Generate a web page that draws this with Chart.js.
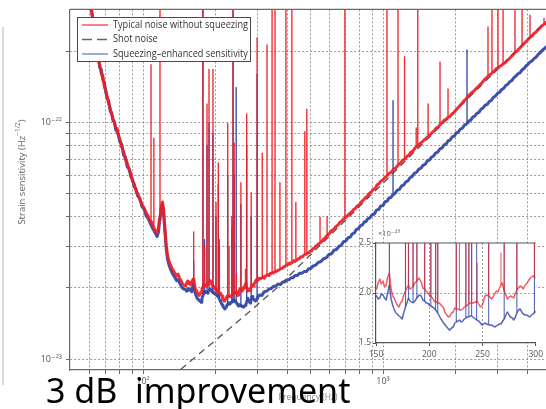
<!DOCTYPE html>
<html>
<head>
<meta charset="utf-8">
<script src="https://cdn.jsdelivr.net/npm/chart.js@4.4.1/dist/chart.umd.min.js"></script>
<style>
  html, body { margin: 0; padding: 0; background: #fff; }
  #wrap { position: relative; width: 546px; height: 409px; overflow: hidden; background: #fff; }
  #main { position: absolute; left: 0; top: 0; }
  #inset { position: absolute; left: 340px; top: 226px; }
</style>
</head>
<body>
<div id="wrap">
  <canvas id="main" width="546" height="409"></canvas>
  <canvas id="inset" width="206" height="146"></canvas>
</div>
<script>
// Strain sensitivity vs frequency, GEO600 style plot with 150-300 Hz inset.
// Values are [frequency Hz, strain in units of 1e-23 /sqrt(Hz)]; a repeated
// frequency (base, top, base) is a narrow spectral line.

const FONT = '"Open Sans", "DejaVu Sans", sans-serif';
const RED_COLOR = 'rgba(236, 30, 38, 0.92)';
const BLUE_COLOR = 'rgba(46, 66, 162, 0.92)';
const GRID = 'rgba(120, 120, 120, 0.75)';

const LEGEND_LABELS = ['Typical noise without squeezing', 'Shot noise', 'Squeezing–enhanced sensitivity'];
const BIG_TEXT = '3 dB  improvement';

const X_MIN = 49.64, X_MAX = 4777;
const Y_MIN = 0.9, Y_MAX = 30.13;
const X_GRID = [60, 70, 80, 90, 100, 200, 300, 400, 500, 600, 700, 800, 900, 1000, 2000, 3000, 4000];
const X_LABELS = ['', '', '', '', '10²', '', '', '', '', '', '', '', '', '10³', '', '', ''];
const Y_GRID = [1, 2, 3, 4, 5, 6, 7, 8, 9, 10, 20];
const Y_LABELS = ['10⁻²³', '', '', '', '', '', '', '', '', '10⁻²²', ''];
const INSET_X_TICKS = [150, 200, 250, 300];
const INSET_Y_TICKS = [1.5, 2.0, 2.5];

const RED = [
  [58, 40], [60, 33], [61.5, 28.5], [63, 24], [64, 21.3], [65, 18.6], [66, 17.6], [67, 16.1], [68, 15.8],
  [69, 14.2], [70, 13.7], [71, 12.8], [72, 12.0], [73, 11.5], [74, 10.9], [75, 10.4], [76, 10.0], [77, 9.5],
  [78, 9.45], [79, 8.8], [80, 8.55], [81.5, 7.9], [83, 7.55], [84.5, 7.0], [86, 6.75], [87.5, 6.3], [89, 6.1],
  [90.5, 5.65], [92, 5.5], [93.5, 5.15], [95, 5.02], [97, 4.72], [99, 4.52], [101, 4.36], [103, 4.16],
  [105, 4.03], [107, 3.85], [108, 3.8], [108, 17.6], [108, 3.8], [109, 3.73], [111, 3.6], [111, 8.6], [111, 3.6],
  [113, 3.47], [114.5, 3.42], [116, 3.57], [117, 3.9], [117.7, 3.95], [117.7, 60], [117.7, 3.95], [119, 4.4],
  [120.5, 4.62], [122, 4.25], [123.5, 3.55], [125, 3.02], [126.5, 2.77], [128, 2.62], [130, 2.51], [132, 2.42],
  [134, 2.37], [136, 2.3], [138, 2.25], [140, 2.29], [142, 2.2], [144, 2.15], [146, 2.08], [148, 2.06],
  [150.6, 2.04], [152, 2.1], [153.6, 2.14], [155, 2.09], [156.6, 2.12], [158, 2.06], [159.6, 2.08], [161, 2.16],
  [162.6, 2.2], [162.6, 3.45], [162.6, 2.2], [164, 2.05], [165.6, 1.97], [167, 1.95], [168.6, 1.91], [170, 1.88],
  [171.6, 1.86], [173, 1.9], [174.6, 1.92], [176, 1.98], [177.7, 2.02], [177.7, 60], [177.7, 2.02], [179, 2.05],
  [180.5, 2.08], [180.5, 3.0], [180.5, 2.08], [182, 2.04], [184.8, 2.06], [184.8, 12], [184.8, 2.06], [186.5, 2.1],
  [188.4, 2.12], [188.4, 16.8], [188.4, 2.12], [190.5, 2.15], [192.5, 2.11], [194, 2.05], [195.7, 2.04],
  [195.7, 16.8], [195.7, 2.04], [197, 2.02], [198.5, 2.0], [200, 1.98], [201.5, 1.97], [201.5, 4.6], [201.5, 1.97],
  [203, 1.95], [204.5, 1.92], [206, 1.91], [206, 6.75], [206, 1.91], [208, 1.9], [208, 3.2], [208, 1.9],
  [209.5, 1.9], [211, 1.88], [213.5, 1.85], [215, 1.8], [216.5, 1.78], [218, 1.76], [219.5, 1.77], [221, 1.8],
  [222.5, 1.81], [224, 1.85], [225.4, 1.84], [225.4, 9.9], [225.4, 1.84], [227, 1.84], [228.4, 1.83],
  [228.4, 3.0], [228.4, 1.83], [230, 1.83], [231.4, 1.84], [233, 1.86], [234.4, 1.87], [234.4, 4.0], [234.4, 1.87],
  [236, 1.88], [237.2, 1.89], [237.2, 60], [237.2, 1.89], [238.5, 1.9], [239.8, 1.9], [239.8, 8.2], [239.8, 1.9],
  [241, 1.9], [243.4, 1.91], [245, 1.92], [245, 2.3], [245, 1.92], [246.4, 1.89], [248, 1.86], [249.4, 1.87],
  [251, 1.92], [252.4, 1.97], [254, 1.98], [255.8, 1.97], [255.8, 5.57], [255.8, 1.97], [257, 1.96],
  [258.4, 1.94], [260, 1.96], [261.4, 1.99], [263, 2.02], [264.4, 2.01], [266, 2.05], [267.4, 2.08],
  [267.4, 2.4], [267.4, 2.08], [268.5, 2.1], [270.4, 2.02], [270.4, 10.9], [270.4, 2.02], [272, 1.98],
  [273.4, 1.94], [275, 1.96], [276.3, 1.97], [278, 1.96], [279.3, 1.95], [281, 2.0], [282.3, 2.03],
  [282.3, 5.06], [282.3, 2.03], [283.8, 2.05], [285.3, 2.07], [287, 2.06], [288.3, 2.04], [290, 2.08],
  [291.3, 2.09], [293, 2.12], [294.3, 2.14], [296, 2.16], [297.3, 2.17], [298.8, 2.16], [298.8, 22.8],
  [298.8, 2.16], [300, 2.15], [303, 2.2], [306, 2.18], [310, 2.2], [313.9, 2.19], [313.9, 7.43], [313.9, 2.19],
  [317, 2.23], [320, 2.2], [324, 2.25], [328.6, 2.24], [328.6, 21.3], [328.6, 2.24], [332, 2.28], [335, 2.26],
  [340, 2.31], [345, 2.29], [345, 60], [345, 2.29], [350, 2.33], [354.8, 2.32], [354.8, 60], [354.8, 2.32],
  [358, 2.36], [362, 2.36], [367, 2.38], [372, 2.39], [372, 5.57], [372, 2.39], [376, 2.42], [380, 2.42],
  [386, 2.46], [394, 2.47], [394, 60], [394, 2.47], [398, 2.51], [402, 2.51], [408, 2.55], [412, 2.53],
  [417, 2.57], [417, 60], [417, 2.57], [421, 2.57], [425, 2.61], [429, 2.59], [433.4, 2.62], [433.4, 4.6],
  [433.4, 2.62], [438, 2.62], [442, 2.66], [448, 2.66], [455, 2.71], [462, 2.71], [467, 2.75], [472.3, 2.75],
  [472.3, 9.17], [472.3, 2.75], [477, 2.78], [481.5, 2.78], [481.5, 11.4], [481.5, 2.78], [486, 2.81],
  [491, 2.82], [498, 2.87], [504, 2.87], [510, 2.93], [517, 2.94], [523, 3.0], [530, 3.02], [538, 3.07],
  [546.5, 3.09], [546.5, 3.98], [546.5, 3.09], [552, 3.13], [557, 3.15], [565, 3.22], [572, 3.23], [580, 3.31],
  [585, 3.31], [585, 4.0], [585, 3.31], [590, 3.36], [600, 3.41], [612, 3.5], [625, 3.55], [637, 3.64],
  [650, 3.7], [662, 3.8], [675, 3.84], [684, 3.92], [693.6, 3.93], [693.6, 60], [693.6, 3.93], [702, 4.0],
  [710, 4.03], [724, 4.12], [738, 4.18], [752, 4.28], [767, 4.34], [782, 4.45], [797, 4.49], [812, 4.62],
  [828, 4.7], [844, 4.82], [860, 4.88], [877, 5.02], [894, 5.1], [911, 5.23], [929, 5.28], [946, 5.46],
  [963, 5.53], [981, 5.67], [1000, 5.73], [1020, 5.88], [1039, 5.94], [1039, 60], [1039, 5.94], [1059, 6.1],
  [1080, 6.16], [1101, 6.32], [1128, 6.43], [1155, 6.6], [1155, 60], [1155, 6.6], [1170, 6.7], [1187, 6.78],
  [1208, 6.94], [1230, 6.99], [1230, 19.0], [1230, 6.99], [1258, 7.2], [1283, 7.31], [1308, 7.5], [1335, 7.6],
  [1360, 7.82], [1375, 7.84], [1375, 9.5], [1375, 7.84], [1396, 7.95], [1396, 60], [1396, 7.95], [1427, 8.17],
  [1455, 8.28], [1483, 8.45], [1512, 8.58], [1541, 8.77], [1541, 12.0], [1541, 8.77], [1570, 8.88],
  [1600, 9.08], [1632, 9.23], [1665, 9.48], [1697, 9.58], [1728, 9.82], [1728, 18.0], [1728, 9.82],
  [1762, 9.98], [1796, 10.23], [1830, 10.33], [1866, 10.52], [1866, 13.9], [1866, 10.52], [1902, 10.63],
  [1940, 10.88], [1977, 11.07], [2015, 11.33], [2054, 11.57], [2094, 11.83], [2135, 12.07], [2176, 12.38],
  [2218, 12.57], [2260, 12.93], [2304, 13.17], [2349, 13.43], [2394, 13.62], [2440, 13.93], [2488, 14.17],
  [2536, 14.48], [2585, 14.72], [2635, 15.13], [2685, 15.42], [2738, 15.72], [2738, 25.4], [2738, 15.72],
  [2791, 15.93], [2845, 16.22], [2845, 60], [2845, 16.22], [2899, 16.48], [2956, 16.88], [3014, 17.08],
  [3014, 60], [3014, 17.08], [3073, 17.32], [3120, 17.48], [3165, 17.72], [3165, 60], [3165, 17.72],
  [3227, 17.93], [3290, 18.33], [3350, 18.57], [3416, 19.03], [3483, 19.37], [3548, 19.78], [3548, 60],
  [3548, 19.78], [3614, 20.07], [3668, 20.43], [3723, 20.67], [3796, 21.13], [3796, 60], [3796, 21.13],
  [3868, 21.57], [3943, 22.03], [4019, 22.47], [4098, 22.93], [4098, 28.5], [4098, 22.93], [4176, 23.27],
  [4258, 23.83], [4341, 24.17], [4425, 24.73], [4511, 25.17], [4600, 25.73], [4687, 25.97], [4687, 27.6],
  [4687, 25.97], [4775, 26.43], [4950, 27.3],
];

const BLUE = [
  [58, 41], [60, 34], [61.5, 28], [63, 24.6], [64, 21.6], [65, 19.4], [66, 17.1], [67, 16.8], [68, 15.2],
  [69, 14.8], [70, 13.4], [71, 12.7], [72, 12.3], [73, 11.2], [74, 11.0], [75, 10.2], [76, 10.1], [77, 9.3],
  [78, 9.2], [79, 8.9], [80, 8.3], [81.5, 8.1], [83, 7.3], [84.5, 7.15], [86, 6.5], [87.5, 6.42], [89, 5.9],
  [90.5, 5.74], [92, 5.35], [93.5, 5.24], [95, 4.9], [97, 4.8], [99, 4.42], [101, 4.31], [103, 4.05],
  [105, 3.94], [107, 3.77], [109, 3.62], [111, 3.5], [113, 3.38], [114.5, 3.3], [116, 3.45], [117, 3.78],
  [119, 4.28], [120.5, 4.5], [122, 4.06], [123.5, 3.42], [125, 2.92], [126.5, 2.66], [128, 2.52], [130, 2.41],
  [132, 2.33], [134, 2.26], [136, 2.21], [138, 2.15], [140, 2.17], [142, 2.1], [144, 2.05], [146, 2.0], [148, 1.98],
  [150.6, 1.97], [152, 1.94], [153.6, 1.95], [155, 1.99], [156.6, 1.98], [158, 1.95], [159.6, 1.93], [161, 2.0],
  [162.6, 2.08], [162.6, 2.6], [162.6, 2.08], [164, 1.95], [165.6, 1.88], [167, 1.84], [168.6, 1.8], [170, 1.79],
  [171.6, 1.77], [173, 1.76], [174.6, 1.74], [176, 1.8], [177.7, 1.86], [177.7, 40], [177.7, 1.86], [179, 1.9],
  [180.5, 1.95], [180.5, 3.2], [180.5, 1.95], [182, 1.92], [184.8, 1.9], [184.8, 8], [184.8, 1.9], [186.5, 1.92],
  [188.4, 1.95], [188.4, 10], [188.4, 1.95], [190.5, 1.98], [192.5, 1.97], [194, 1.93], [195.7, 1.92], [195.7, 9],
  [195.7, 1.92], [197, 1.9], [198.5, 1.9], [200, 1.88], [201.5, 1.87], [201.5, 4], [201.5, 1.87], [203, 1.86],
  [204.5, 1.85], [206, 1.83], [206, 5.5], [206, 1.83], [208, 1.8], [208, 3], [208, 1.8], [209.5, 1.77], [211, 1.74],
  [213.5, 1.7], [215, 1.68], [216.5, 1.66], [218, 1.64], [219.5, 1.63], [221, 1.65], [222.5, 1.66], [224, 1.7],
  [225.4, 1.71], [225.4, 6], [225.4, 1.71], [227, 1.72], [228.4, 1.73], [230, 1.71], [231.4, 1.72], [233, 1.74],
  [234.4, 1.75], [234.4, 3.6], [234.4, 1.75], [236, 1.76], [237.2, 1.76], [237.2, 30], [237.2, 1.76],
  [238.5, 1.77], [239.8, 1.77], [239.8, 6], [239.8, 1.77], [241, 1.76], [243.4, 1.74], [244.5, 1.73],
  [244.5, 14.1], [244.5, 1.73], [246.4, 1.72], [248, 1.7], [249.4, 1.68], [251, 1.69], [252.4, 1.7], [254, 1.69],
  [255.8, 1.68], [255.8, 4.5], [255.8, 1.68], [257, 1.68], [258.4, 1.68], [260, 1.67], [261.4, 1.66], [263, 1.67],
  [264.4, 1.68], [266, 1.69], [267.4, 1.69], [268.5, 1.71], [270.4, 1.74], [270.4, 8], [270.4, 1.74], [272, 1.78],
  [273.4, 1.81], [275, 1.78], [276.3, 1.76], [278, 1.75], [279.3, 1.73], [281, 1.76], [282.3, 1.8], [282.3, 4],
  [282.3, 1.8], [283.8, 1.83], [285.3, 1.84], [287, 1.81], [288.3, 1.79], [290, 1.78], [291.3, 1.78], [293, 1.77],
  [294.3, 1.76], [296, 1.78], [297.3, 1.79], [298.8, 1.8], [298.8, 16], [298.8, 1.8], [300, 1.82],
  [306, 1.87], [313, 1.86], [320, 1.93], [328, 1.94], [335, 1.98], [342, 1.99], [350, 2.03], [358, 2.04],
  [366, 2.08], [374, 2.07], [382, 2.12], [390, 2.12], [398, 2.16], [406, 2.17], [414, 2.21], [422, 2.21],
  [430, 2.26], [440, 2.26], [450, 2.31], [460, 2.31], [470, 2.35], [480, 2.35], [490, 2.41], [500, 2.42],
  [512, 2.48], [525, 2.5], [538, 2.57], [550, 2.58], [565, 2.66], [580, 2.68], [595, 2.77], [610, 2.79],
  [625, 2.89], [640, 2.91], [655, 3.0], [670, 3.03], [685, 3.14], [700, 3.16], [715, 3.26], [730, 3.28],
  [745, 3.39], [760, 3.42], [775, 3.54], [790, 3.56], [805, 3.67], [820, 3.69], [835, 3.8], [850, 3.82],
  [865, 3.93], [880, 3.95], [900, 4.08], [920, 4.11], [940, 4.27], [960, 4.3], [980, 4.45], [1000, 4.47],
  [1020, 4.63], [1040, 4.66], [1060, 4.81], [1080, 4.83], [1101, 4.96], [1101, 12.4], [1101, 4.96], [1120, 5.01],
  [1145, 5.17], [1170, 5.22], [1195, 5.4], [1220, 5.45], [1245, 5.62], [1270, 5.67], [1295, 5.85], [1320, 5.91],
  [1350, 6.1], [1380, 6.17], [1410, 6.36], [1440, 6.42], [1470, 6.62], [1500, 6.67], [1530, 6.89], [1560, 6.95],
  [1590, 7.14], [1620, 7.21], [1655, 7.44], [1690, 7.51], [1725, 7.74], [1760, 7.81], [1795, 8.05], [1830, 8.11],
  [1865, 8.37], [1900, 8.44], [1940, 8.7], [1980, 8.78], [2020, 9.05], [2060, 9.13], [2100, 9.4], [2140, 9.47],
  [2185, 9.77], [2239, 9.88], [2239, 20.3], [2239, 9.88], [2275, 10.15], [2320, 10.25], [2365, 10.55],
  [2410, 10.65], [2460, 10.95], [2510, 11.05], [2560, 11.4], [2610, 11.55], [2665, 11.85], [2720, 11.95],
  [2775, 12.3], [2830, 12.45], [2885, 12.8], [2940, 12.95], [3000, 13.3], [3060, 13.45], [3120, 13.8],
  [3180, 13.95], [3245, 14.35], [3310, 14.55], [3375, 14.9], [3440, 15.05], [3510, 15.5], [3580, 15.75],
  [3650, 16.1], [3720, 16.25], [3795, 16.7], [3870, 16.95], [3945, 17.4], [4020, 17.65], [4100, 18.05],
  [4180, 18.25], [4265, 18.7], [4350, 18.95], [4435, 19.45], [4520, 19.75], [4610, 20.25], [4700, 20.55],
  [4900, 21.4],
];

const SHOT = [
  [120, 0.78], [142.6, 0.9], [200, 1.2], [260, 1.5], [361, 2.0], [500, 2.77], [700, 3.88], [1000, 5.55],
  [1500, 8.35], [2000, 11.2], [3000, 16.8], [3614, 20.3], [4800, 26.9],
];

const toXY = arr => arr.map(([x, y]) => ({ x, y }));
// a segment between two points at the same frequency is a spectral line
const isLine = c => c.p0.parsed.x === c.p1.parsed.x;

const tickFont = { family: FONT, size: 9 };
const insetFont = { family: FONT, size: 8.5 };

const decor = {
  id: 'decor',
  afterDraw(chart) {
    const { ctx, chartArea: a } = chart;
    ctx.save();

    // top frame
    ctx.strokeStyle = '#6a6a6a';
    ctx.lineWidth = 1.2;
    ctx.beginPath(); ctx.moveTo(a.left, a.top); ctx.lineTo(a.right, a.top); ctx.stroke();

    // faint page rule on the far left
    ctx.strokeStyle = '#cfcfcf';
    ctx.lineWidth = 1.5;
    ctx.beginPath(); ctx.moveTo(3, 27); ctx.lineTo(3, 385); ctx.stroke();

    // legend box
    const lx = 77.5, ly = 17.5, lw = 173, lh = 44;
    ctx.fillStyle = '#fff';
    ctx.fillRect(lx, ly, lw, lh);
    ctx.strokeStyle = '#4a4a4a';
    ctx.lineWidth = 1;
    ctx.strokeRect(lx, ly, lw, lh);
    const rows = [25, 39.5, 54];
    const styles = [
      { color: RED_COLOR, width: 1.2, dash: [] },
      { color: '#666', width: 1.6, dash: [10, 5] },
      { color: '#6070c4', width: 1.2, dash: [] },
    ];
    ctx.font = `10px ${FONT}`;
    const sx = 135 / ctx.measureText(LEGEND_LABELS[0]).width;
    LEGEND_LABELS.forEach((label, i) => {
      const s = styles[i];
      ctx.strokeStyle = s.color;
      ctx.lineWidth = s.width;
      ctx.setLineDash(s.dash);
      ctx.beginPath(); ctx.moveTo(82, rows[i]); ctx.lineTo(108, rows[i]); ctx.stroke();
      ctx.setLineDash([]);
      ctx.save();
      ctx.translate(113, rows[i]);
      ctx.scale(sx, 1);
      ctx.fillStyle = '#333';
      ctx.textBaseline = 'middle';
      ctx.fillText(label, 0, 0);
      ctx.restore();
    });

    // y title with superscript exponent
    ctx.save();
    ctx.translate(22, 172);
    ctx.rotate(-Math.PI / 2);
    ctx.fillStyle = '#666';
    ctx.textBaseline = 'middle';
    const t1 = 'Strain sensitivity (Hz', t2 = '−1/2', t3 = ')';
    ctx.font = `9.5px ${FONT}`;
    const w1 = ctx.measureText(t1).width, w3 = ctx.measureText(t3).width;
    ctx.font = `6.5px ${FONT}`;
    const w2 = ctx.measureText(t2).width;
    const x0 = -(w1 + w2 + w3) / 2;
    ctx.font = `9.5px ${FONT}`;
    ctx.fillText(t1, x0, 0);
    ctx.fillText(t3, x0 + w1 + w2, 0);
    ctx.font = `6.5px ${FONT}`;
    ctx.fillText(t2, x0 + w1, -4);
    ctx.restore();

    // caption laid over the bottom of the figure
    ctx.font = '34px "Noto Sans", sans-serif';
    ctx.fillStyle = '#000';
    ctx.textBaseline = 'alphabetic';
    ctx.fillText(BIG_TEXT, 46, 403);

    ctx.restore();
  },
};

new Chart(document.getElementById('main').getContext('2d'), {
  type: 'line',
  data: {
    datasets: [
      {
        label: LEGEND_LABELS[0], data: toXY(RED), borderColor: RED_COLOR, borderWidth: 3,
        segment: { borderWidth: c => (isLine(c) ? 1.4 : undefined) },
      },
      { label: LEGEND_LABELS[1], data: toXY(SHOT), borderColor: '#555', borderWidth: 1.3, borderDash: [7, 5] },
      {
        label: LEGEND_LABELS[2], data: toXY(BLUE), borderColor: BLUE_COLOR, borderWidth: 3,
        segment: { borderWidth: c => (isLine(c) ? 1.4 : undefined) },
      },
    ],
  },
  options: {
    responsive: false,
    animation: false,
    events: [],
    layout: { padding: { top: 4, right: 0, bottom: 0, left: 0 } },
    elements: {
      point: { radius: 0 },
      line: { tension: 0, borderJoinStyle: 'round', borderCapStyle: 'butt' },
    },
    plugins: { legend: { display: false }, tooltip: { enabled: false } },
    scales: {
      x: {
        type: 'logarithmic',
        min: X_MIN,
        max: X_MAX,
        afterBuildTicks(scale) { scale.ticks = X_GRID.map(v => ({ value: v })); },
        afterFit(scale) { scale.height = 39; },
        ticks: {
          autoSkip: false, maxRotation: 0, padding: 2, color: '#555', font: tickFont,
          callback: (v, i) => X_LABELS[i],
        },
        grid: { color: GRID, lineWidth: 1, tickLength: 4, tickColor: '#666', tickWidth: 1 },
        border: { color: '#6a6a6a', width: 1.2, dash: [2, 2] },
        title: {
          display: true, text: 'Frequency (Hz)', color: '#888',
          font: { family: FONT, size: 8.5 }, padding: { top: 0, bottom: 6 },
        },
      },
      y: {
        type: 'logarithmic',
        min: Y_MIN,
        max: Y_MAX,
        afterBuildTicks(scale) { scale.ticks = Y_GRID.map(v => ({ value: v })); },
        afterFit(scale) { scale.width = 70; },
        ticks: {
          autoSkip: false, padding: 4, color: '#555', font: tickFont,
          callback: (v, i) => Y_LABELS[i],
        },
        grid: { color: GRID, lineWidth: 1, tickLength: 4, tickColor: '#666', tickWidth: 1 },
        border: { color: '#6a6a6a', width: 1.2, dash: [2, 2] },
      },
    },
  },
  plugins: [decor],
});

const insetDecor = {
  id: 'insetDecor',
  beforeDraw(chart) {
    const { ctx, chartArea: a } = chart;
    ctx.save();
    ctx.fillStyle = '#fff';
    ctx.fillRect(a.left, a.top, a.right - a.left, a.bottom - a.top);
    ctx.restore();
  },
  afterDraw(chart) {
    const { ctx, chartArea: a } = chart;
    ctx.save();
    ctx.strokeStyle = '#555';
    ctx.lineWidth = 1.2;
    ctx.beginPath(); ctx.moveTo(a.left, a.top); ctx.lineTo(a.right, a.top); ctx.stroke();
    ctx.fillStyle = '#666';
    ctx.font = `7.5px ${FONT}`;
    ctx.textBaseline = 'middle';
    ctx.fillText('×10⁻²³', a.left + 2, a.top - 9);
    ctx.restore();
  },
};

new Chart(document.getElementById('inset').getContext('2d'), {
  type: 'line',
  data: {
    datasets: [
      {
        data: toXY(RED), borderColor: 'rgba(236, 30, 38, 0.72)', borderWidth: 1.5,
        segment: { borderWidth: c => (isLine(c) ? 1.1 : undefined) },
      },
      {
        data: toXY(BLUE), borderColor: 'rgba(46, 66, 162, 0.8)', borderWidth: 1.5,
        segment: { borderWidth: c => (isLine(c) ? 1.1 : undefined) },
      },
    ],
  },
  options: {
    responsive: false,
    animation: false,
    events: [],
    layout: { padding: { top: 17, right: 4, bottom: 0, left: 0 } },
    elements: { point: { radius: 0 }, line: { tension: 0, borderJoinStyle: 'round' } },
    plugins: { legend: { display: false }, tooltip: { enabled: false } },
    scales: {
      x: {
        type: 'linear',
        min: 150,
        max: 300,
        afterBuildTicks(scale) { scale.ticks = INSET_X_TICKS.map(v => ({ value: v })); },
        afterFit(scale) { scale.height = 29; },
        ticks: { autoSkip: false, maxRotation: 0, padding: 3, color: '#555', font: insetFont, callback: (v, i) => String(INSET_X_TICKS[i]) },
        grid: {
          color: c => (c.tick && (c.tick.value === 200 || c.tick.value === 250) ? GRID : 'rgba(0,0,0,0)'),
          tickLength: 3, tickColor: '#555',
        },
        border: { color: '#555', width: 1.2, dash: [2, 2] },
      },
      y: {
        type: 'linear',
        min: 1.5,
        max: 2.5,
        afterBuildTicks(scale) { scale.ticks = INSET_Y_TICKS.map(v => ({ value: v })); },
        afterFit(scale) { scale.width = 36; },
        ticks: { autoSkip: false, padding: 2, color: '#555', font: insetFont, callback: (v, i) => INSET_Y_TICKS[i].toFixed(1) },
        grid: {
          color: c => (c.tick && c.tick.value === 2 ? GRID : 'rgba(0,0,0,0)'),
          tickLength: 3, tickColor: '#555',
        },
        border: { color: '#555', width: 1.2, dash: [2, 2] },
      },
    },
  },
  plugins: [insetDecor],
});
</script>
</body>
</html>
